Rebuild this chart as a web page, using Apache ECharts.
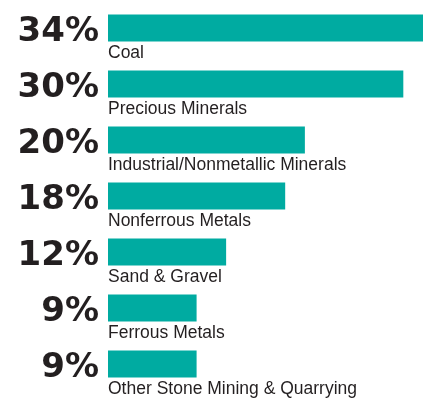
<!DOCTYPE html>
<html>
<head>
<meta charset="utf-8">
<script src="https://cdn.jsdelivr.net/npm/echarts@6/dist/echarts.min.js"></script>
<style>
  html, body { margin: 0; padding: 0; background: #fff; }
  #chart { width: 423px; height: 398px; }
</style>
</head>
<body>
<div id="chart"></div>
<script>
// -- Data --
const categories = [
  'Coal',
  'Precious Minerals',
  'Industrial/Nonmetallic Minerals',
  'Nonferrous Metals',
  'Sand & Gravel',
  'Ferrous Metals',
  'Other Stone Mining & Quarrying'
];
const shares = [34, 30, 20, 18, 12, 9, 9];

const TEAL = '#00aba1';
const INK = '#231f20';

const chart = echarts.init(document.getElementById('chart'), null, { renderer: 'canvas' });

chart.setOption({
  animation: false,
  // the top bar runs off the right edge, so the axis stops short of 34
  grid: { left: 108, right: 0, top: 0, bottom: 6, containLabel: false },
  xAxis: {
    type: 'value',
    min: 0,
    max: 32,
    show: false
  },
  yAxis: {
    type: 'category',
    data: categories,
    inverse: true,
    axisLine: { show: false },
    axisTick: { show: false },
    axisLabel: {
      margin: 9,
      formatter: (v, i) => '{p|' + shares[i] + '%}',
      rich: {
        p: {
          color: INK,
          fontFamily: 'DejaVu Sans',
          fontWeight: 'bold',
          fontSize: 34,
          padding: [8, 0, 0, 0]
        }
      }
    }
  },
  series: [{
    type: 'bar',
    data: shares,
    barWidth: 27,
    clip: true,
    itemStyle: { color: TEAL },
    label: {
      show: true,
      position: [0, '100%'],
      offset: [0, 3],
      align: 'left',
      verticalAlign: 'top',
      color: INK,
      fontFamily: 'Liberation Sans',
      fontSize: 17.5,
      formatter: p => categories[p.dataIndex]
    }
  }]
});
</script>
</body>
</html>
